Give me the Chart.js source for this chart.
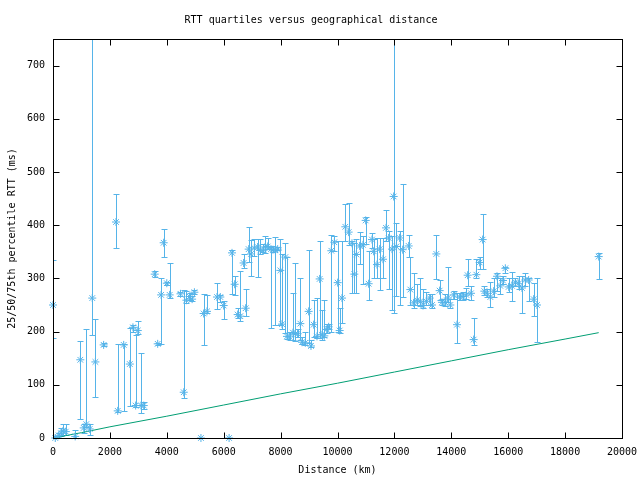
<!DOCTYPE html>
<html>
<head>
<meta charset="utf-8">
<title>RTT quartiles versus geographical distance</title>
<script src="https://cdn.jsdelivr.net/npm/chart.js@4.4.0/dist/chart.umd.min.js"></script>
<style>
    html, body { margin: 0; padding: 0; background: #fff; }
    #rtt-chart { display: block; }
</style>
</head>
<body>
<canvas id="rtt-chart" width="640" height="480"></canvas>
<script>
// ====== DATA ======
const distKm = [
    0, 80, 200, 280, 350, 450, 780, 960, 1080, 1170,
    1290, 1380, 1490, 1780, 2215, 2275, 2485, 2700, 2810, 2905,
    2980, 3095, 3190, 3575, 3680, 3800, 3890, 4000, 4100, 4480,
    4595, 4690, 4800, 4890, 4970, 5200, 5295, 5413, 5764, 5881,
    5999, 6190, 6292, 6385, 6491, 6585, 6700, 6772, 6878, 6960,
    7077, 7194, 7288, 7382, 7464, 7546, 7663, 7733, 7815, 7897,
    7991, 8050, 8167, 8224, 8318, 8435, 8517, 8599, 8693, 8752,
    8869, 8986, 9068, 9162, 9279, 9373, 9455, 9537, 9620, 9689,
    9783, 9888, 10006, 10076, 10158, 10275, 10392, 10509, 10591, 10662,
    10779, 10896, 10990, 11095, 11212, 11271, 11388, 11482, 11599, 11705,
    11798, 11916, 11974, 12068, 12185, 12291, 12502, 12560, 12677, 12795,
    12912, 13006, 13123, 13240, 13322, 13474, 13590, 13672, 13789, 13871,
    13965, 14082, 14200, 14293, 14411, 14528, 14575, 14692, 14786, 14880,
    14997, 15102, 15161, 15255, 15372, 15489, 15606, 15723, 15817, 15899,
    16016, 16133, 16251, 16368, 16485, 16602, 16719, 16895, 17012, 19181
];
// median RTT (ms)
const rttMed = [
    250, 0, 5, 9, 13, 12, 3, 147, 19, 26,
    17, 263, 143, 175, 406, 51, 175, 139, 208, 61,
    202, 61, 61, 308, 177, 269, 367, 291, 269, 271,
    86, 259, 266, 261, 274, 0, 234, 238, 265, 265,
    249, 0, 348, 289, 232, 229, 329, 244, 355, 346,
    357, 359, 353, 352, 359, 360, 355, 354, 353, 355,
    315, 214, 340, 191, 190, 198, 196, 196, 215, 180,
    179, 238, 173, 213, 191, 299, 194, 192, 204, 209,
    352, 368, 292, 202, 263, 397, 387, 366, 308, 345,
    361, 363, 409, 290, 373, 351, 326, 355, 336, 395,
    376, 355, 454, 360, 376, 354, 361, 279, 254, 259,
    257, 249, 257, 263, 250, 346, 277, 255, 255, 263,
    250, 269, 213, 265, 266, 269, 306, 272, 185, 307,
    330, 373, 276, 272, 265, 276, 304, 286, 296, 319,
    284, 286, 293, 290, 282, 297, 297, 261, 250, 341
];
// 25th percentile RTT (ms)
const rttLo = [
    188, 0, 0, 3, 5, 6, 0, 36, 10, 20,
    5, 194, 77, 172, 357, 49, 51, 61, 200, 58,
    195, 47, 55, 303, 175, 177, 340, 287, 263, 266,
    75, 254, 260, 258, 270, 0, 175, 235, 242, 255,
    224, 0, 271, 268, 226, 219, 320, 230, 330, 304,
    343, 303, 346, 350, 347, 355, 207, 350, 213, 353,
    213, 205, 197, 186, 184, 185, 182, 190, 185, 177,
    175, 179, 171, 190, 188, 188, 185, 190, 198, 205,
    200, 352, 200, 198, 216, 370, 363, 272, 272, 272,
    327, 290, 365, 260, 358, 300, 300, 279, 300, 370,
    280, 240, 235, 266, 250, 265, 341, 250, 245, 250,
    248, 245, 250, 250, 245, 299, 260, 250, 248, 255,
    245, 262, 179, 260, 260, 262, 286, 260, 175, 300,
    318, 318, 268, 265, 247, 265, 276, 271, 290, 310,
    275, 258, 285, 280, 235, 285, 258, 230, 180, 298
];
// 75th percentile RTT (ms)
const rttHi = [
    335, 3, 10, 18, 26, 26, 15, 182, 26, 205,
    27, 900, 224, 178, 459, 177, 177, 207, 213, 194,
    219, 160, 67, 313, 179, 301, 393, 293, 329, 275,
    279, 276, 272, 266, 278, 0, 271, 268, 291, 268,
    257, 0, 353, 304, 244, 313, 345, 280, 396, 373,
    374, 374, 374, 365, 380, 376, 359, 360, 378, 359,
    374, 345, 366, 340, 199, 272, 329, 205, 300, 190,
    200, 353, 185, 260, 263, 370, 240, 260, 215, 215,
    382, 380, 370, 244, 370, 440, 442, 370, 366, 375,
    388, 380, 415, 351, 385, 375, 376, 376, 376, 429,
    390, 380, 900, 404, 390, 478, 382, 341, 310, 290,
    300, 280, 275, 270, 270, 382, 297, 262, 270, 321,
    262, 277, 272, 272, 275, 282, 336, 285, 225, 337,
    340, 421, 285, 280, 294, 300, 310, 300, 305, 322,
    300, 312, 300, 305, 304, 311, 300, 291, 301, 348
];

// speed-of-light style lower bound (green line)
const minLineKm = [0, 1000, 2000, 4000, 6000, 8000, 10000, 12000, 14000, 16000, 18000, 19181];
const minLineMs = [0, 10, 21, 41, 62, 83, 103, 124, 145, 166, 186, 198];

const xTickStep = 2000;
const yTickStep = 100;

const BLUE = '#56b4e9';
const GREEN = '#009e73';
const FONT = { family: '"DejaVu Sans Mono", "Liberation Mono", monospace', size: 10, weight: 'normal' };

// ====== ERROR BARS (vertical line + small caps) ======
const errorBars = {
    id: 'errorBars',
    beforeDatasetsDraw(chart) {
        const { ctx, chartArea, scales } = chart;
        ctx.save();
        ctx.beginPath();
        ctx.rect(chartArea.left, chartArea.top, chartArea.right - chartArea.left, chartArea.bottom - chartArea.top + 1);
        ctx.clip();
        ctx.strokeStyle = BLUE;
        ctx.lineWidth = 1;
        ctx.beginPath();
        distKm.forEach((d, i) => {
            if (rttHi[i] === rttLo[i]) return;
            const x = Math.round(scales.x.getPixelForValue(d)) + 0.5;
            const yLo = Math.round(scales.y.getPixelForValue(rttLo[i])) + 0.5;
            const yHi = Math.round(scales.y.getPixelForValue(rttHi[i])) + 0.5;
            ctx.moveTo(x, yLo);
            ctx.lineTo(x, yHi);
            ctx.moveTo(x - 3, yLo);
            ctx.lineTo(x + 3, yLo);
            ctx.moveTo(x - 3, yHi);
            ctx.lineTo(x + 3, yHi);
        });
        ctx.stroke();
        ctx.restore();
    }
};

// ====== GNUPLOT STYLE FRAME (box + inward ticks on all sides) ======
const frame = {
    id: 'frame',
    afterDraw(chart) {
        const { ctx, chartArea, scales } = chart;
        const l = Math.round(chartArea.left) + 0.5;
        const r = Math.round(chartArea.right) + 0.5;
        const t = Math.round(chartArea.top) + 0.5;
        const b = Math.round(chartArea.bottom) + 0.5;
        const len = 6;
        ctx.save();
        ctx.strokeStyle = '#000';
        ctx.lineWidth = 1;
        ctx.beginPath();
        scales.x.ticks.forEach(tk => {
            const x = Math.round(scales.x.getPixelForValue(tk.value)) + 0.5;
            ctx.moveTo(x, b); ctx.lineTo(x, b - len);
            ctx.moveTo(x, t); ctx.lineTo(x, t + len);
        });
        scales.y.ticks.forEach(tk => {
            const y = Math.round(scales.y.getPixelForValue(tk.value)) + 0.5;
            ctx.moveTo(l, y); ctx.lineTo(l + len, y);
            ctx.moveTo(r, y); ctx.lineTo(r - len, y);
        });
        ctx.stroke();
        ctx.strokeRect(l, t, r - l, b - t);
        ctx.restore();
    }
};

const ctx = document.getElementById('rtt-chart');
new Chart(ctx, {
    type: 'scatter',
    data: {
        datasets: [
            {
                label: 'RTT quartiles',
                data: distKm.map((d, i) => ({ x: d, y: rttMed[i] })),
                pointStyle: 'star',
                pointRadius: 4,
                pointBorderWidth: 1,
                borderColor: BLUE,
                backgroundColor: BLUE,
                clip: false
            },
            {
                label: 'minimum',
                data: minLineKm.map((d, i) => ({ x: d, y: minLineMs[i] })),
                showLine: true,
                borderColor: GREEN,
                borderWidth: 1,
                pointRadius: 0,
                fill: false
            }
        ]
    },
    options: {
        responsive: false,
        animation: false,
        devicePixelRatio: 1,
        layout: { padding: { left: 0, right: 18, top: 0, bottom: 0 } },
        plugins: {
            legend: { display: false },
            tooltip: { enabled: false },
            title: {
                display: true,
                text: 'RTT quartiles versus geographical distance',
                color: '#000',
                font: FONT,
                padding: { top: 14, bottom: 13 }
            }
        },
        scales: {
            x: {
                type: 'linear',
                min: 0,
                max: 20000,
                grid: { display: false, drawTicks: false },
                border: { display: false },
                ticks: {
                    stepSize: xTickStep,
                    color: '#000',
                    font: FONT,
                    padding: 8,
                    maxRotation: 0,
                    callback: value => String(value)
                },
                title: { display: true, text: 'Distance (km)', color: '#000', font: FONT, padding: { top: 4, bottom: 4 } },
                afterFit: s => {
                    s.height = 42;
                    s.paddingLeft = 0;
                    s.paddingRight = 0;
                }
            },
            y: {
                min: 0,
                max: 750,
                grid: { display: false, drawTicks: false },
                border: { display: false },
                ticks: { stepSize: yTickStep, color: '#000', font: FONT, padding: 8, callback: value => String(value) },
                afterBuildTicks: s => { s.ticks = s.ticks.filter(t => t.value % yTickStep === 0); },
                title: { display: true, text: '25/50/75th percentile RTT (ms)', color: '#000', font: FONT, padding: { top: 6, bottom: 4 } },
                afterFit: s => {
                    s.width = 53;
                    s.paddingTop = 0;
                    s.paddingBottom = 0;
                }
            }
        }
    },
    plugins: [errorBars, frame]
});
</script>
</body>
</html>
